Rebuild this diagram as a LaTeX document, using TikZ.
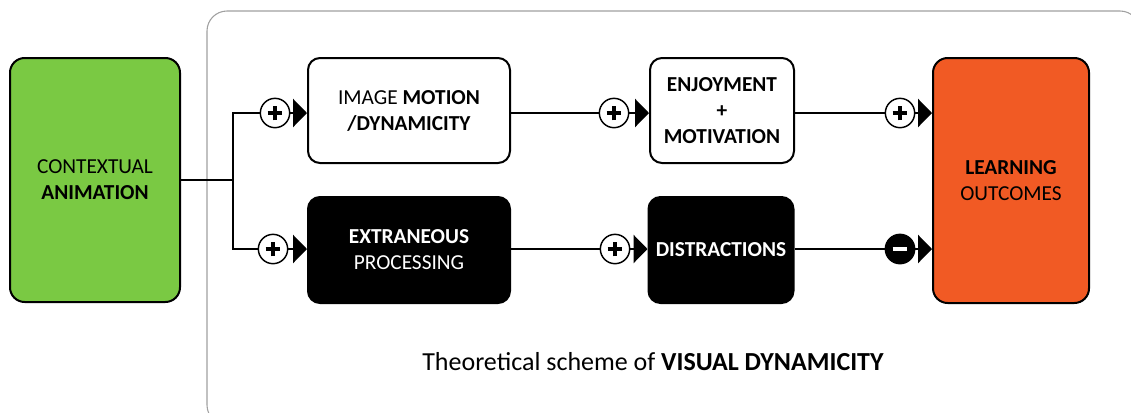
\documentclass[tikz,border=0pt]{standalone}
\usepackage{fontspec}
\setmainfont{Carlito}
\usetikzlibrary{arrows.meta}
\definecolor{ctxgreen}{HTML}{7AC943}
\definecolor{outorange}{HTML}{F15A24}
\definecolor{panelgray}{HTML}{A0A0A0}
\tikzset{
  every node/.style={font=\fontsize{16}{19.5}\selectfont, align=center},
  box/.style={draw=black, line width=1.5pt, rounded corners=9pt, inner sep=0pt},
  whitebox/.style={box, fill=white, text=black},
  blackbox/.style={box, fill=black, text=white},
  conn/.style={line width=1.9pt},
  tip/.style={conn, -{Triangle[length=10.5pt, width=21pt]}},
  pluscirc/.style={circle, draw=black, fill=white, line width=1.1pt, minimum size=22pt, inner sep=0pt,
    path picture={
      \draw[line width=3pt] ([xshift=-5.5pt]path picture bounding box.center) -- ([xshift=5.5pt]path picture bounding box.center);
      \draw[line width=3pt] ([yshift=-5.5pt]path picture bounding box.center) -- ([yshift=5.5pt]path picture bounding box.center);
    }},
  minuscirc/.style={circle, draw=black, fill=black, line width=1.1pt, minimum size=22pt, inner sep=0pt,
    path picture={
      \draw[white, line width=3pt] ([xshift=-5.5pt]path picture bounding box.center) -- ([xshift=5.5pt]path picture bounding box.center);
    }}
}
\begin{document}
\begin{tikzpicture}[x=0.75pt, y=-0.75pt]
\useasboundingbox (0,0) rectangle (1131,412);
% panel
\begin{scope}
\clip (0,0) rectangle (1131,412);
\draw[panelgray, line width=0.8pt, rounded corners=15pt] (207,11) rectangle (1140,425);
\end{scope}
% main boxes
\node[box, fill=ctxgreen, rounded corners=11pt, minimum width=170*0.75pt, minimum height=244*0.75pt] (ctx) at (95,180)
  {CONTEXTUAL\\\textbf{ANIMATION}};
\node[box, fill=outorange, rounded corners=11pt, minimum width=156*0.75pt, minimum height=245*0.75pt] (out) at (1011,180.5)
  {\textbf{LEARNING}\\OUTCOMES};
\node[whitebox, minimum width=202*0.75pt, minimum height=105*0.75pt] (img) at (409,110.5)
  {IMAGE \textbf{MOTION}\\\textbf{/DYNAMICITY}};
\node[whitebox, minimum width=144*0.75pt, minimum height=105*0.75pt] (enj) at (722,110.5)
  {\textbf{ENJOYMENT}\\\textbf{+}\\\textbf{MOTIVATION}};
\node[blackbox, minimum width=202*0.75pt, minimum height=106*0.75pt] (ext) at (409,250)
  {\textbf{EXTRANEOUS}\\PROCESSING};
\node[blackbox, minimum width=145*0.75pt, minimum height=106*0.75pt] (dis) at (721,250)
  {\textbf{DISTRACTIONS}};
% sign circles
\node[pluscirc] (p1) at (275,113) {};
\node[pluscirc] (p2) at (614,113) {};
\node[pluscirc] (p3) at (900,113) {};
\node[pluscirc] (p4) at (273,249) {};
\node[pluscirc] (p5) at (615,249) {};
\node[minuscirc] (m6) at (900,249) {};
% branch
\coordinate (br) at (233,180);
\coordinate (brtop) at (233,113);
\coordinate (brbot) at (233,249);
\draw[conn] (ctx.east |- br) -- (br);
\draw[conn] (p1.west) -- (brtop) -- (brbot) -- (p4.west);
% connectors
\draw[tip] (p1.east) -- (p1.east -| img.west);
\draw[conn] (img.east |- p2) -- (p2.west);
\draw[tip] (p2.east) -- (p2.east -| enj.west);
\draw[conn] (enj.east |- p3) -- (p3.west);
\draw[tip] (p3.east) -- (p3.east -| out.west);
\draw[tip] (p4.east) -- (p4.east -| ext.west);
\draw[conn] (ext.east |- p5) -- (p5.west);
\draw[tip] (p5.east) -- (p5.east -| dis.west);
\draw[conn] (dis.east |- m6) -- (m6.west);
\draw[tip] (m6.east) -- (m6.east -| out.west);
% title
\node[font=\fontsize{19.5}{23}\selectfont] (title) at (653,362) {Theoretical scheme of \textbf{VISUAL DYNAMICITY}};
\end{tikzpicture}
\end{document}
